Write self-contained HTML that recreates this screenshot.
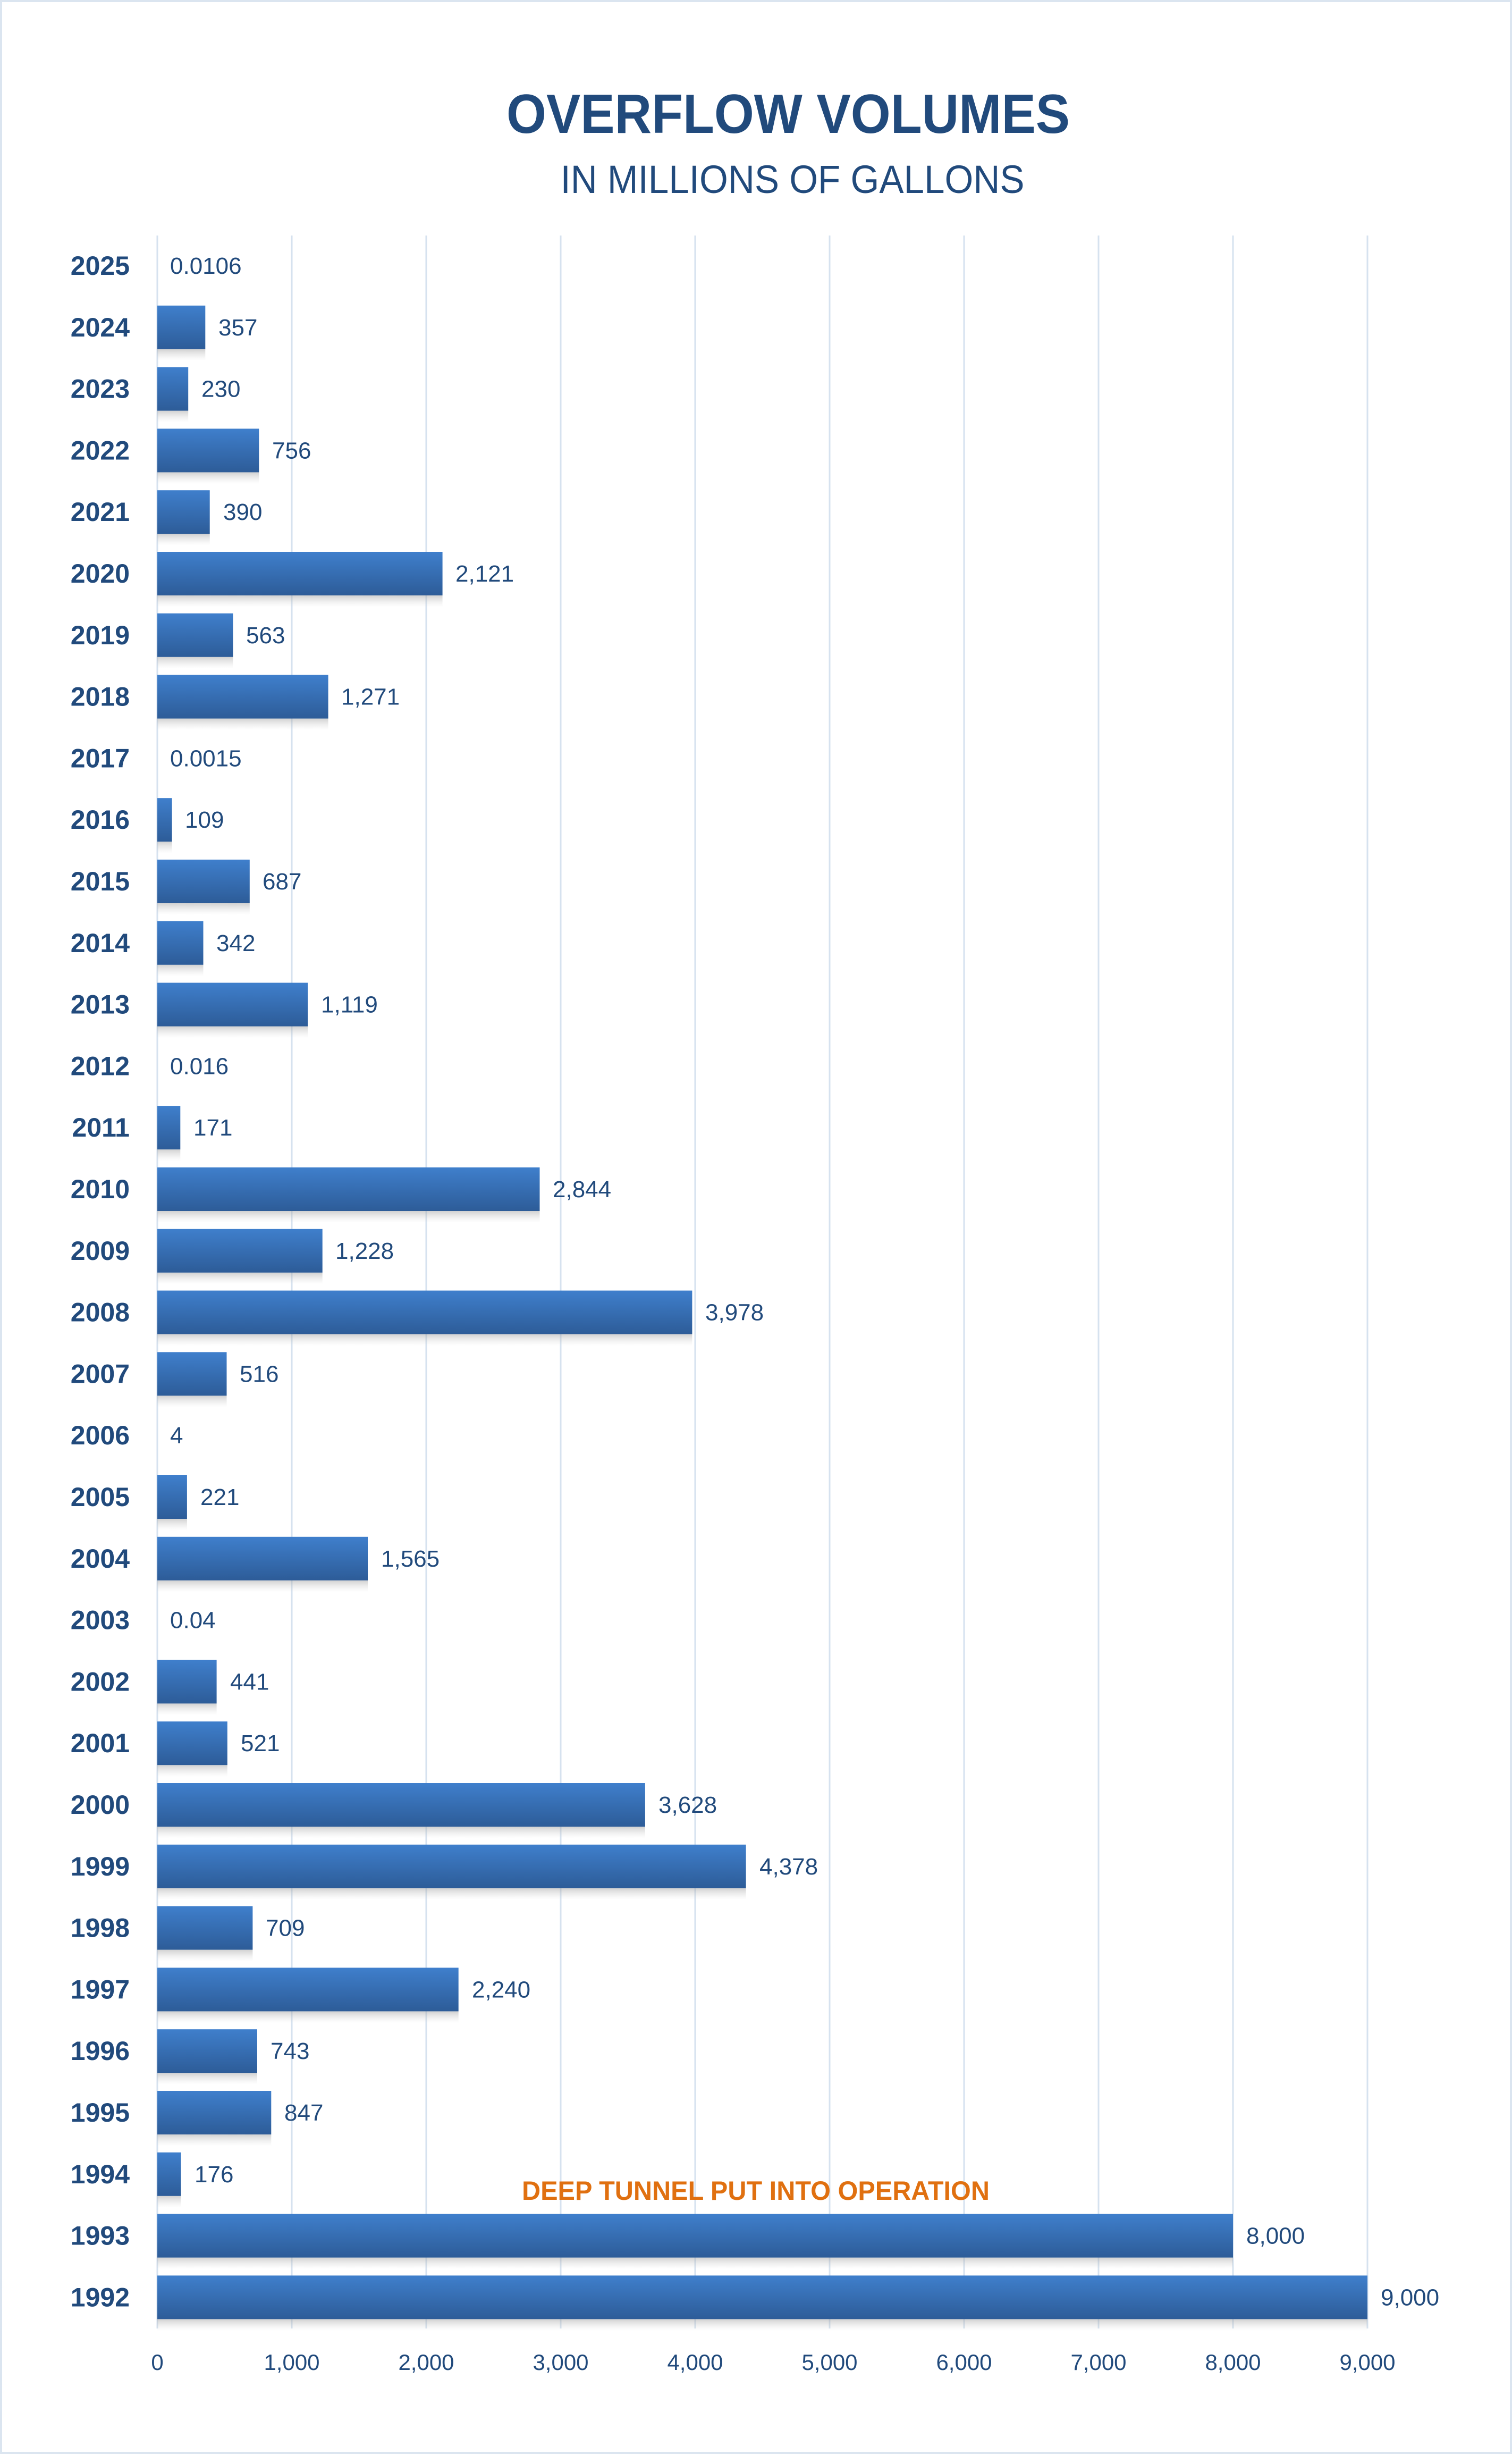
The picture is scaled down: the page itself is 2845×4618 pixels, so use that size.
<!DOCTYPE html>
<html><head><meta charset="utf-8"><style>
html,body{margin:0;padding:0;background:#fff;}
svg{display:block;}
</style></head><body>
<svg width="2845" height="4618" viewBox="0 0 2845 4618" xmlns="http://www.w3.org/2000/svg" font-family="Liberation Sans, sans-serif">
<defs>
<linearGradient id="bg" x1="0" y1="0" x2="0" y2="1">
<stop offset="0" stop-color="#3f7fcc"/><stop offset="1" stop-color="#2d5c98"/>
</linearGradient>
<linearGradient id="sh" x1="0" y1="0" x2="0" y2="1">
<stop offset="0" stop-color="#999" stop-opacity="0.45"/><stop offset="1" stop-color="#ccc" stop-opacity="0"/>
</linearGradient>
</defs>
<rect x="2" y="2" width="2841" height="4612" fill="#fff" stroke="#dbe5f0" stroke-width="4"/>
<text x="1483" y="250" text-anchor="middle" font-size="104" font-weight="bold" fill="#214a7c" textLength="1060" lengthAdjust="spacingAndGlyphs">OVERFLOW VOLUMES</text>
<text x="1491" y="363" text-anchor="middle" font-size="74" fill="#214a7c" textLength="873" lengthAdjust="spacingAndGlyphs">IN MILLIONS OF GALLONS</text>
<g stroke="#d6e2ef" stroke-width="3">
<line x1="296" y1="443" x2="296" y2="4380"/><line x1="549" y1="443" x2="549" y2="4380"/><line x1="802" y1="443" x2="802" y2="4380"/><line x1="1055" y1="443" x2="1055" y2="4380"/><line x1="1308" y1="443" x2="1308" y2="4380"/><line x1="1561" y1="443" x2="1561" y2="4380"/><line x1="1814" y1="443" x2="1814" y2="4380"/><line x1="2067" y1="443" x2="2067" y2="4380"/><line x1="2320" y1="443" x2="2320" y2="4380"/><line x1="2573" y1="443" x2="2573" y2="4380"/>
</g>
<g font-size="42" fill="#214a7c" text-anchor="middle">
<text x="296" y="4458">0</text><text x="549" y="4458">1,000</text><text x="802" y="4458">2,000</text><text x="1055" y="4458">3,000</text><text x="1308" y="4458">4,000</text><text x="1561" y="4458">5,000</text><text x="1814" y="4458">6,000</text><text x="2067" y="4458">7,000</text><text x="2320" y="4458">8,000</text><text x="2573" y="4458">9,000</text>
</g>
<text x="1422" y="4138" text-anchor="middle" font-size="50" font-weight="bold" fill="#e07010" textLength="880" lengthAdjust="spacingAndGlyphs">DEEP TUNNEL PUT INTO OPERATION</text>
<g id="rows">
<g transform="translate(0,500)"><text x="244" y="17" text-anchor="end" font-size="50" font-weight="bold" fill="#214a7c">2025</text><text x="320" y="15" font-size="44" fill="#214a7c">0.0106</text></g>
<g transform="translate(0,615.8)"><rect x="296" y="41" width="90.3" height="22" fill="url(#sh)"/><rect x="296" y="-41" width="90.3" height="82" fill="url(#bg)"/><text x="244" y="17" text-anchor="end" font-size="50" font-weight="bold" fill="#214a7c">2024</text><text x="411" y="15" font-size="44" fill="#214a7c">357</text></g>
<g transform="translate(0,731.6)"><rect x="296" y="41" width="58.2" height="22" fill="url(#sh)"/><rect x="296" y="-41" width="58.2" height="82" fill="url(#bg)"/><text x="244" y="17" text-anchor="end" font-size="50" font-weight="bold" fill="#214a7c">2023</text><text x="379" y="15" font-size="44" fill="#214a7c">230</text></g>
<g transform="translate(0,847.4)"><rect x="296" y="41" width="191.3" height="22" fill="url(#sh)"/><rect x="296" y="-41" width="191.3" height="82" fill="url(#bg)"/><text x="244" y="17" text-anchor="end" font-size="50" font-weight="bold" fill="#214a7c">2022</text><text x="512" y="15" font-size="44" fill="#214a7c">756</text></g>
<g transform="translate(0,963.2)"><rect x="296" y="41" width="98.7" height="22" fill="url(#sh)"/><rect x="296" y="-41" width="98.7" height="82" fill="url(#bg)"/><text x="244" y="17" text-anchor="end" font-size="50" font-weight="bold" fill="#214a7c">2021</text><text x="420" y="15" font-size="44" fill="#214a7c">390</text></g>
<g transform="translate(0,1079)"><rect x="296" y="41" width="536.6" height="22" fill="url(#sh)"/><rect x="296" y="-41" width="536.6" height="82" fill="url(#bg)"/><text x="244" y="17" text-anchor="end" font-size="50" font-weight="bold" fill="#214a7c">2020</text><text x="857" y="15" font-size="44" fill="#214a7c">2,121</text></g>
<g transform="translate(0,1194.8)"><rect x="296" y="41" width="142.4" height="22" fill="url(#sh)"/><rect x="296" y="-41" width="142.4" height="82" fill="url(#bg)"/><text x="244" y="17" text-anchor="end" font-size="50" font-weight="bold" fill="#214a7c">2019</text><text x="463" y="15" font-size="44" fill="#214a7c">563</text></g>
<g transform="translate(0,1310.6)"><rect x="296" y="41" width="321.6" height="22" fill="url(#sh)"/><rect x="296" y="-41" width="321.6" height="82" fill="url(#bg)"/><text x="244" y="17" text-anchor="end" font-size="50" font-weight="bold" fill="#214a7c">2018</text><text x="642" y="15" font-size="44" fill="#214a7c">1,271</text></g>
<g transform="translate(0,1426.4)"><text x="244" y="17" text-anchor="end" font-size="50" font-weight="bold" fill="#214a7c">2017</text><text x="320" y="15" font-size="44" fill="#214a7c">0.0015</text></g>
<g transform="translate(0,1542.2)"><rect x="296" y="41" width="27.6" height="22" fill="url(#sh)"/><rect x="296" y="-41" width="27.6" height="82" fill="url(#bg)"/><text x="244" y="17" text-anchor="end" font-size="50" font-weight="bold" fill="#214a7c">2016</text><text x="348" y="15" font-size="44" fill="#214a7c">109</text></g>
<g transform="translate(0,1658)"><rect x="296" y="41" width="173.8" height="22" fill="url(#sh)"/><rect x="296" y="-41" width="173.8" height="82" fill="url(#bg)"/><text x="244" y="17" text-anchor="end" font-size="50" font-weight="bold" fill="#214a7c">2015</text><text x="494" y="15" font-size="44" fill="#214a7c">687</text></g>
<g transform="translate(0,1773.8)"><rect x="296" y="41" width="86.5" height="22" fill="url(#sh)"/><rect x="296" y="-41" width="86.5" height="82" fill="url(#bg)"/><text x="244" y="17" text-anchor="end" font-size="50" font-weight="bold" fill="#214a7c">2014</text><text x="407" y="15" font-size="44" fill="#214a7c">342</text></g>
<g transform="translate(0,1889.6)"><rect x="296" y="41" width="283.1" height="22" fill="url(#sh)"/><rect x="296" y="-41" width="283.1" height="82" fill="url(#bg)"/><text x="244" y="17" text-anchor="end" font-size="50" font-weight="bold" fill="#214a7c">2013</text><text x="604" y="15" font-size="44" fill="#214a7c">1,119</text></g>
<g transform="translate(0,2005.4)"><text x="244" y="17" text-anchor="end" font-size="50" font-weight="bold" fill="#214a7c">2012</text><text x="320" y="15" font-size="44" fill="#214a7c">0.016</text></g>
<g transform="translate(0,2121.2)"><rect x="296" y="41" width="43.3" height="22" fill="url(#sh)"/><rect x="296" y="-41" width="43.3" height="82" fill="url(#bg)"/><text x="244" y="17" text-anchor="end" font-size="50" font-weight="bold" fill="#214a7c">2011</text><text x="364" y="15" font-size="44" fill="#214a7c">171</text></g>
<g transform="translate(0,2237)"><rect x="296" y="41" width="719.5" height="22" fill="url(#sh)"/><rect x="296" y="-41" width="719.5" height="82" fill="url(#bg)"/><text x="244" y="17" text-anchor="end" font-size="50" font-weight="bold" fill="#214a7c">2010</text><text x="1040" y="15" font-size="44" fill="#214a7c">2,844</text></g>
<g transform="translate(0,2352.8)"><rect x="296" y="41" width="310.7" height="22" fill="url(#sh)"/><rect x="296" y="-41" width="310.7" height="82" fill="url(#bg)"/><text x="244" y="17" text-anchor="end" font-size="50" font-weight="bold" fill="#214a7c">2009</text><text x="631" y="15" font-size="44" fill="#214a7c">1,228</text></g>
<g transform="translate(0,2468.6)"><rect x="296" y="41" width="1006.4" height="22" fill="url(#sh)"/><rect x="296" y="-41" width="1006.4" height="82" fill="url(#bg)"/><text x="244" y="17" text-anchor="end" font-size="50" font-weight="bold" fill="#214a7c">2008</text><text x="1327" y="15" font-size="44" fill="#214a7c">3,978</text></g>
<g transform="translate(0,2584.4)"><rect x="296" y="41" width="130.5" height="22" fill="url(#sh)"/><rect x="296" y="-41" width="130.5" height="82" fill="url(#bg)"/><text x="244" y="17" text-anchor="end" font-size="50" font-weight="bold" fill="#214a7c">2007</text><text x="451" y="15" font-size="44" fill="#214a7c">516</text></g>
<g transform="translate(0,2700.2)"><text x="244" y="17" text-anchor="end" font-size="50" font-weight="bold" fill="#214a7c">2006</text><text x="320" y="15" font-size="44" fill="#214a7c">4</text></g>
<g transform="translate(0,2816)"><rect x="296" y="41" width="55.9" height="22" fill="url(#sh)"/><rect x="296" y="-41" width="55.9" height="82" fill="url(#bg)"/><text x="244" y="17" text-anchor="end" font-size="50" font-weight="bold" fill="#214a7c">2005</text><text x="377" y="15" font-size="44" fill="#214a7c">221</text></g>
<g transform="translate(0,2931.8)"><rect x="296" y="41" width="396" height="22" fill="url(#sh)"/><rect x="296" y="-41" width="396" height="82" fill="url(#bg)"/><text x="244" y="17" text-anchor="end" font-size="50" font-weight="bold" fill="#214a7c">2004</text><text x="717" y="15" font-size="44" fill="#214a7c">1,565</text></g>
<g transform="translate(0,3047.6)"><text x="244" y="17" text-anchor="end" font-size="50" font-weight="bold" fill="#214a7c">2003</text><text x="320" y="15" font-size="44" fill="#214a7c">0.04</text></g>
<g transform="translate(0,3163.4)"><rect x="296" y="41" width="111.6" height="22" fill="url(#sh)"/><rect x="296" y="-41" width="111.6" height="82" fill="url(#bg)"/><text x="244" y="17" text-anchor="end" font-size="50" font-weight="bold" fill="#214a7c">2002</text><text x="433" y="15" font-size="44" fill="#214a7c">441</text></g>
<g transform="translate(0,3279.2)"><rect x="296" y="41" width="131.8" height="22" fill="url(#sh)"/><rect x="296" y="-41" width="131.8" height="82" fill="url(#bg)"/><text x="244" y="17" text-anchor="end" font-size="50" font-weight="bold" fill="#214a7c">2001</text><text x="453" y="15" font-size="44" fill="#214a7c">521</text></g>
<g transform="translate(0,3395)"><rect x="296" y="41" width="917.9" height="22" fill="url(#sh)"/><rect x="296" y="-41" width="917.9" height="82" fill="url(#bg)"/><text x="244" y="17" text-anchor="end" font-size="50" font-weight="bold" fill="#214a7c">2000</text><text x="1239" y="15" font-size="44" fill="#214a7c">3,628</text></g>
<g transform="translate(0,3510.8)"><rect x="296" y="41" width="1107.6" height="22" fill="url(#sh)"/><rect x="296" y="-41" width="1107.6" height="82" fill="url(#bg)"/><text x="244" y="17" text-anchor="end" font-size="50" font-weight="bold" fill="#214a7c">1999</text><text x="1429" y="15" font-size="44" fill="#214a7c">4,378</text></g>
<g transform="translate(0,3626.6)"><rect x="296" y="41" width="179.4" height="22" fill="url(#sh)"/><rect x="296" y="-41" width="179.4" height="82" fill="url(#bg)"/><text x="244" y="17" text-anchor="end" font-size="50" font-weight="bold" fill="#214a7c">1998</text><text x="500" y="15" font-size="44" fill="#214a7c">709</text></g>
<g transform="translate(0,3742.4)"><rect x="296" y="41" width="566.7" height="22" fill="url(#sh)"/><rect x="296" y="-41" width="566.7" height="82" fill="url(#bg)"/><text x="244" y="17" text-anchor="end" font-size="50" font-weight="bold" fill="#214a7c">1997</text><text x="888" y="15" font-size="44" fill="#214a7c">2,240</text></g>
<g transform="translate(0,3858.2)"><rect x="296" y="41" width="188" height="22" fill="url(#sh)"/><rect x="296" y="-41" width="188" height="82" fill="url(#bg)"/><text x="244" y="17" text-anchor="end" font-size="50" font-weight="bold" fill="#214a7c">1996</text><text x="509" y="15" font-size="44" fill="#214a7c">743</text></g>
<g transform="translate(0,3974)"><rect x="296" y="41" width="214.3" height="22" fill="url(#sh)"/><rect x="296" y="-41" width="214.3" height="82" fill="url(#bg)"/><text x="244" y="17" text-anchor="end" font-size="50" font-weight="bold" fill="#214a7c">1995</text><text x="535" y="15" font-size="44" fill="#214a7c">847</text></g>
<g transform="translate(0,4089.8)"><rect x="296" y="41" width="44.5" height="22" fill="url(#sh)"/><rect x="296" y="-41" width="44.5" height="82" fill="url(#bg)"/><text x="244" y="17" text-anchor="end" font-size="50" font-weight="bold" fill="#214a7c">1994</text><text x="366" y="15" font-size="44" fill="#214a7c">176</text></g>
<g transform="translate(0,4205.6)"><rect x="296" y="41" width="2024" height="22" fill="url(#sh)"/><rect x="296" y="-41" width="2024" height="82" fill="url(#bg)"/><text x="244" y="17" text-anchor="end" font-size="50" font-weight="bold" fill="#214a7c">1993</text><text x="2345" y="15" font-size="44" fill="#214a7c">8,000</text></g>
<g transform="translate(0,4321.4)"><rect x="296" y="41" width="2277" height="22" fill="url(#sh)"/><rect x="296" y="-41" width="2277" height="82" fill="url(#bg)"/><text x="244" y="17" text-anchor="end" font-size="50" font-weight="bold" fill="#214a7c">1992</text><text x="2598" y="15" font-size="44" fill="#214a7c">9,000</text></g>
</g>
</svg>
</body></html>
